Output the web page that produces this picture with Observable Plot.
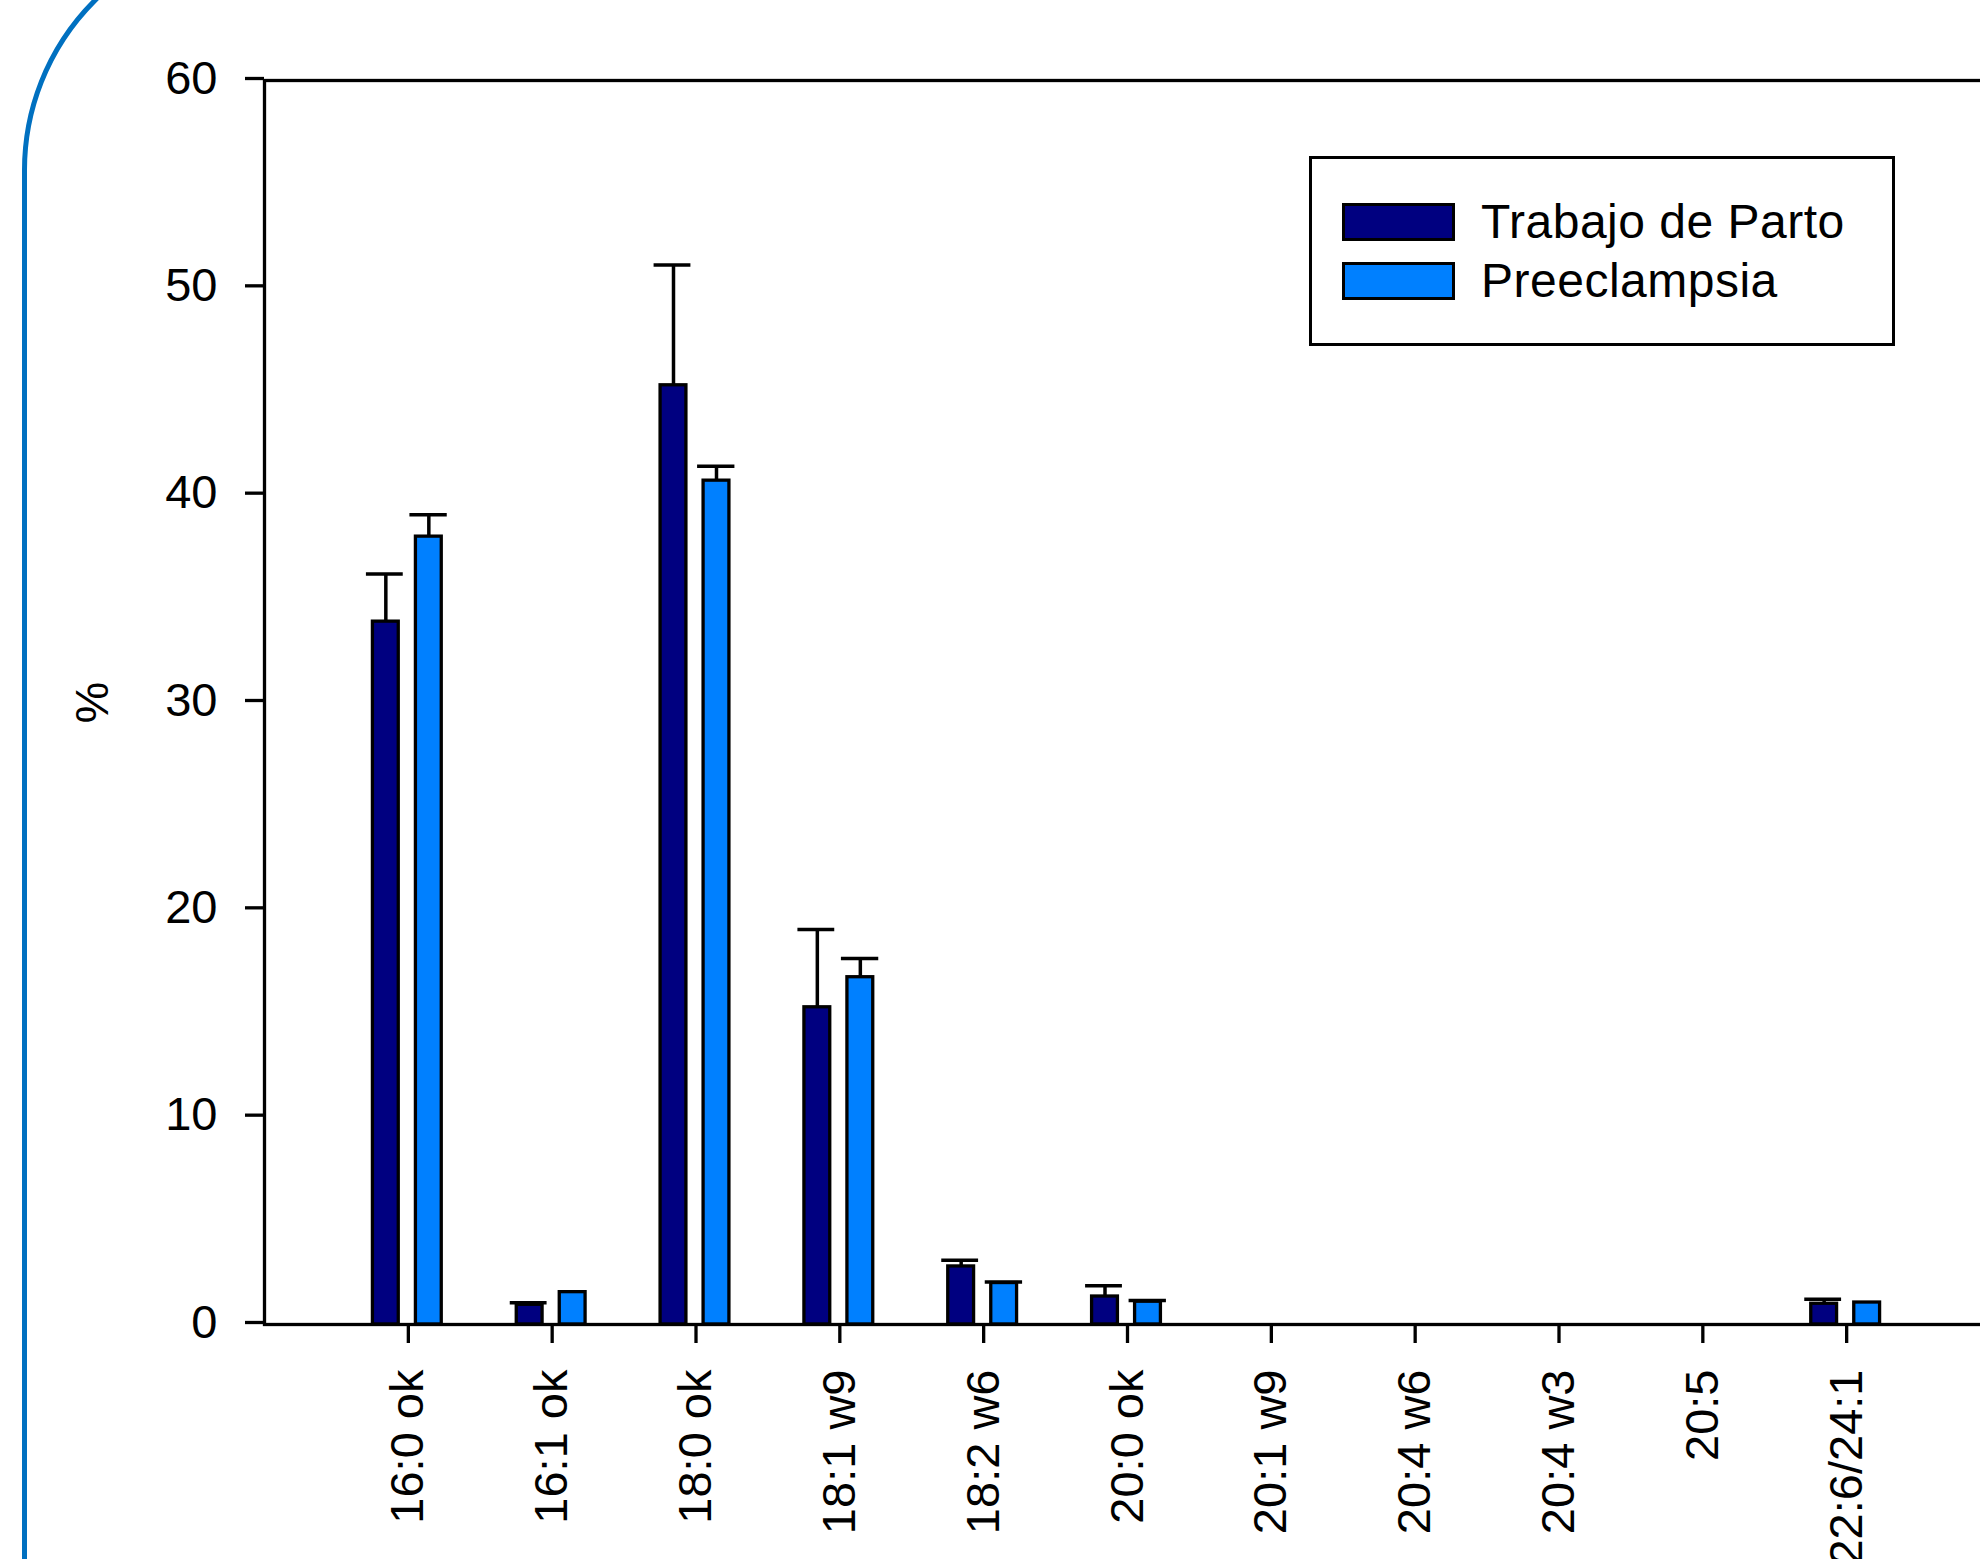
<!DOCTYPE html>
<html>
<head>
<meta charset="utf-8">
<script src="https://cdn.jsdelivr.net/npm/d3@7"></script>
<script src="https://cdn.jsdelivr.net/npm/@observablehq/plot@0.6"></script>
<style>
  html, body { margin: 0; padding: 0; background: #fff; }
  #wrap { position: relative; width: 1980px; height: 1559px; overflow: hidden; background: #fff; }
  #chart { position: absolute; left: 0; top: 0; }
  #deco { position: absolute; left: 22px; top: -72px; width: 3000px; height: 3000px;
          border: 5px solid #0070C0; border-radius: 242px; box-sizing: border-box; pointer-events: none; }
  #legend { position: absolute; left: 1309px; top: 156px; width: 586px; height: 190px; box-sizing: border-box;
            border: 3px solid #000; background: #fff; font-family: "Liberation Sans", Arial, sans-serif; font-size: 48px; color: #000; }
  .item { position: absolute; left: 30px; height: 38px; display: flex; align-items: center; }
  .sw { width: 113px; height: 38px; box-sizing: border-box; border: 3px solid #000; margin-right: 26px; }
  .lbl { line-height: 38px; white-space: nowrap; letter-spacing: 0.5px; }
</style>
</head>
<body>
<div id="wrap">
  <div id="chart"></div>
  <div id="legend"></div>
  <div id="deco"></div>
</div>
<script>
const categories = ["16:0 ok","16:1 ok","18:0 ok","18:1 w9","18:2 w6","20:0 ok","20:1 w9","20:4 w6","20:4 w3","20:5","22:6/24:1"];
const seriesNames = ["Trabajo de Parto", "Preeclampsia"];
const seriesColors = ["#000080", "#0080FF"];
const trabajo    = [33.9, 0.95, 45.3, 15.3, 2.8, 1.35, 0, 0, 0, 0, 1.0];
const trabajoErr = [2.3, 0.1, 5.8, 3.75, 0.3, 0.52, 0, 0, 0, 0, 0.22];
const preecl     = [38.0, 1.56, 40.7, 16.75, 2.0, 1.1, 0, 0, 0, 0, 1.06];
const preeclErr  = [1.05, 0, 0.7, 0.9, 0.05, 0.06, 0, 0, 0, 0, 0];
const yTicks = [0, 10, 20, 30, 40, 50, 60];

const rowsA = categories.map((c, i) => ({cat: c, v: trabajo[i], e: trabajoErr[i]}));
const rowsB = categories.map((c, i) => ({cat: c, v: preecl[i], e: preeclErr[i]}));
const barsA = rowsA.filter(d => d.v > 0), barsB = rowsB.filter(d => d.v > 0);
const errA = rowsA.filter(d => d.e > 0), errB = rowsB.filter(d => d.e > 0);

const chart = Plot.plot({
  width: 1980,
  height: 1559,
  marginLeft: 264,
  marginRight: -10,
  marginTop: 80,
  marginBottom: 235,
  style: {fontFamily: "'Liberation Sans', Arial, sans-serif", fontSize: "47px", color: "#000", background: "transparent"},
  x: {domain: categories, paddingInner: 0, paddingOuter: 0.5, round: false},
  y: {domain: [0, 60]},
  marks: [
    Plot.barY(barsA, {x: "cat", y: "v", fill: seriesColors[0], stroke: "#000", strokeWidth: 3.3, insetLeft: 36.5, insetRight: 81.5}),
    Plot.barY(barsB, {x: "cat", y: "v", fill: seriesColors[1], stroke: "#000", strokeWidth: 3.3, insetLeft: 79.5, insetRight: 38.5}),
    Plot.ruleX(errA, {x: "cat", y1: "v", y2: d => d.v + d.e, dx: -22.5, stroke: "#000", strokeWidth: 3.5}),
    Plot.ruleX(errB, {x: "cat", y1: "v", y2: d => d.v + d.e, dx: 20.5, stroke: "#000", strokeWidth: 3.5}),
    Plot.tickY(errA, {x: "cat", y: d => d.v + d.e, insetLeft: 30, insetRight: 77, stroke: "#000", strokeWidth: 3.5}),
    Plot.tickY(errB, {x: "cat", y: d => d.v + d.e, insetLeft: 73.5, insetRight: 33, stroke: "#000", strokeWidth: 3.5}),
    Plot.frame({stroke: "#000", strokeWidth: 3.3}),
    Plot.axisY({ticks: yTicks, tickSize: 19, tickPadding: 28, tickFormat: d => String(d), strokeWidth: 3.3,
                label: "%", labelAnchor: "center", labelArrow: "none", labelOffset: 190, dy: -2}),
    Plot.axisX({tickRotate: -90, tickSize: 19, tickPadding: 26, strokeWidth: 3.3, label: null})
  ]
});
document.getElementById("chart").appendChild(chart);

const legend = document.getElementById("legend");
seriesNames.forEach((name, i) => {
  const item = document.createElement("div");
  item.className = "item";
  item.style.top = (44 + i * 59) + "px";
  const sw = document.createElement("div");
  sw.className = "sw";
  sw.style.background = seriesColors[i];
  const lb = document.createElement("span");
  lb.className = "lbl";
  lb.textContent = name;
  item.appendChild(sw); item.appendChild(lb);
  legend.appendChild(item);
});
</script>
</body>
</html>
